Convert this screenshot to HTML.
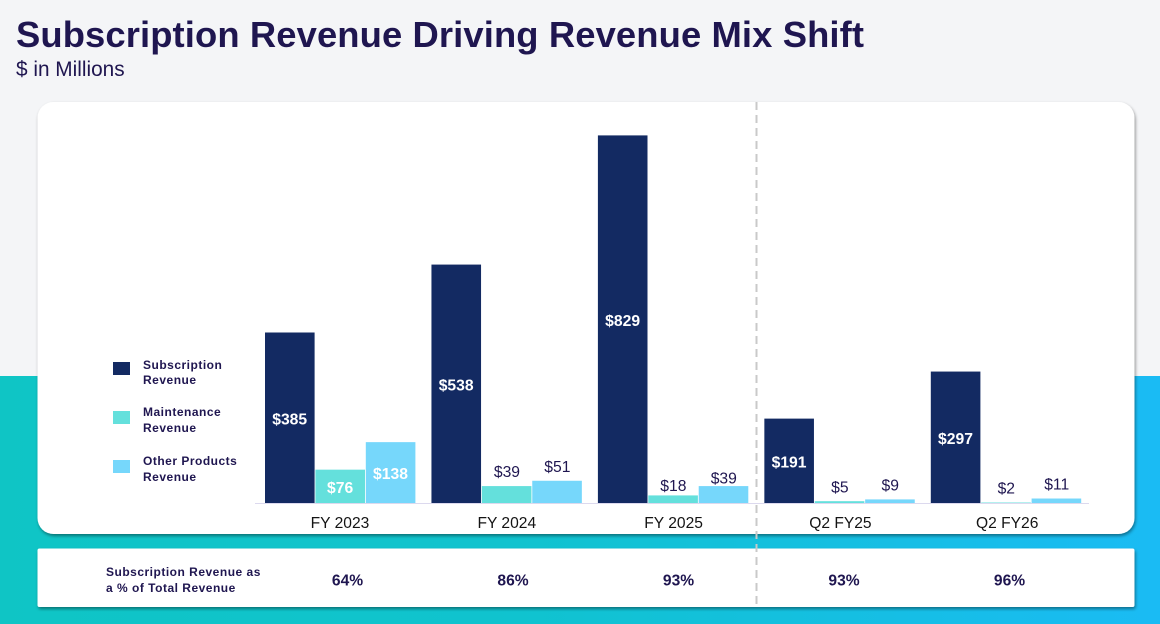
<!DOCTYPE html>
<html lang="en">
<head>
<meta charset="utf-8">
<title>Subscription Revenue Driving Revenue Mix Shift</title>
<style>
html,body{margin:0;padding:0;width:1160px;height:624px;overflow:hidden;background:#f4f5f7}
svg{display:block;font-family:"Liberation Sans",sans-serif}
</style>
</head>
<body>
<svg id="chart" xmlns="http://www.w3.org/2000/svg" width="1160" height="624" viewBox="0 0 1160 624">
  <defs>
    <linearGradient id="band" x1="0" y1="0" x2="1" y2="0">
      <stop offset="0" stop-color="#0fc5c5"/>
      <stop offset="0.45" stop-color="#10c3cf"/>
      <stop offset="1" stop-color="#1abbf4"/>
    </linearGradient>
    <filter id="shadow" x="-3%" y="-5%" width="106%" height="112%">
      <feDropShadow dx="1" dy="2" stdDeviation="1.6" flood-color="#000" flood-opacity="0.42"/>
    </filter>
  </defs>
  <rect width="1160" height="624" fill="#f4f5f7"/>
  <rect x="0" y="376" width="1160" height="248" fill="url(#band)"/>
  <text x="16" y="47" font-size="36.4" font-weight="700" fill="#1f1650" textLength="848" lengthAdjust="spacing">Subscription Revenue Driving Revenue Mix Shift</text>
  <text x="16" y="76" font-size="20.8" fill="#1f1650">$ in Millions</text>
  <rect x="37.5" y="102" width="1097" height="432" rx="16" fill="#fff" filter="url(#shadow)"/>
  <rect x="37.5" y="548.5" width="1097" height="58.5" rx="2" fill="#fff" filter="url(#shadow)"/>
  <g font-size="12" font-weight="700" fill="#1f1650" letter-spacing="0.5">
    <rect x="113" y="362" width="17" height="13" fill="#132a62"/>
    <text x="143" y="369">Subscription</text>
    <text x="143" y="384">Revenue</text>
    <rect x="113" y="411" width="17" height="13" fill="#64e0dc"/>
    <text x="143" y="416">Maintenance</text>
    <text x="143" y="432">Revenue</text>
    <rect x="113" y="460" width="17" height="13" fill="#76d7fb"/>
    <text x="143" y="465">Other Products</text>
    <text x="143" y="481">Revenue</text>
  </g>
  <g id="marks"></g>
  <rect x="255" y="503" width="834" height="1" fill="#dcd9ee"/>
  <g id="labels"></g>
  <g id="ticks"></g>
  <line x1="756.5" y1="102" x2="756.5" y2="604" stroke="#c9c9c9" stroke-width="2" stroke-dasharray="8 5"/>
  <g font-size="12" font-weight="700" fill="#1f1650" letter-spacing="0.5">
    <text x="106" y="576">Subscription Revenue as</text>
    <text x="106" y="592">a % of Total Revenue</text>
  </g>
  <g id="percents"></g>
</svg>
<script>
const categories = ["FY 2023", "FY 2024", "FY 2025", "Q2 FY25", "Q2 FY26"];
const subscriptionRevenue = [385, 538, 829, 191, 297];
const maintenanceRevenue = [76, 39, 18, 5, 2];
const otherProductsRevenue = [138, 51, 39, 9, 11];
const subscriptionShare = ["64%", "86%", "93%", "93%", "96%"];

const seriesNames = ["subscription", "maintenance", "other-products"];
const seriesColors = ["#132a62", "#64e0dc", "#76d7fb"];
const seriesValues = [subscriptionRevenue, maintenanceRevenue, otherProductsRevenue];

const NS = "http://www.w3.org/2000/svg";
const baseY = 503.4;
const unitsPerPx = 829 / 368;
function yScale(v) { return baseY - v / unitsPerPx; }
function groupX(g) { return 265 + g * 166.45; }
function barX(g, s) { return groupX(g) + s * 50.4; }
function tickX(g) { return 340 + g * 166.8; }
function percentX(g) { return 347.5 + g * 165.5; }
const barW = 49.6;
const INSIDE_MIN_PX = 30;

// The FY 2025 small labels sit closer to their bars in the source slide.
function labelGap(g, s) {
  if (g === 2 && s === 1) return 4.5;
  if (g === 2 && s === 2) return 2.5;
  return 8.9;
}

function make(tag, attrs, text) {
  const el = document.createElementNS(NS, tag);
  for (const k in attrs) el.setAttribute(k, attrs[k]);
  if (text !== undefined) el.textContent = text;
  return el;
}

const marks = document.getElementById("marks");
const labels = document.getElementById("labels");
const ticks = document.getElementById("ticks");
const percents = document.getElementById("percents");

categories.forEach(function (cat, g) {
  seriesValues.forEach(function (vals, s) {
    const v = vals[g];
    const top = yScale(v);
    const h = baseY - top;
    const bar = make("rect", { x: barX(g, s), y: top, width: barW, height: h, fill: seriesColors[s] });
    
    
    bar.setAttribute('data-series', seriesNames[s]);
    marks.appendChild(bar);

    const inside = h >= INSIDE_MIN_PX;
    const label = make("text", {
      x: barX(g, s) + barW / 2 + (inside ? -0.1 : 0.3),
      y: inside ? top + h / 2 + 6.4 : top - labelGap(g, s),
      "text-anchor": "middle",
      "font-size": 15.7,
      "font-weight": inside ? 700 : 400,
      fill: inside ? "#ffffff" : "#1f1650"
    }, "$" + v);
    
    
    labels.appendChild(label);
  });

  const tick = make("text", {
    x: tickX(g),
    y: 528,
    "text-anchor": "middle",
    "font-size": 15.6,
    fill: "#141414"
  }, cat);
  
  
  ticks.appendChild(tick);

  const pct = make("text", {
    x: percentX(g),
    y: 585.5,
    "text-anchor": "middle",
    "font-size": 15.6,
    "font-weight": 700,
    fill: "#1f1650"
  }, subscriptionShare[g]);
  
  
  percents.appendChild(pct);
});
</script>
</body>
</html>
